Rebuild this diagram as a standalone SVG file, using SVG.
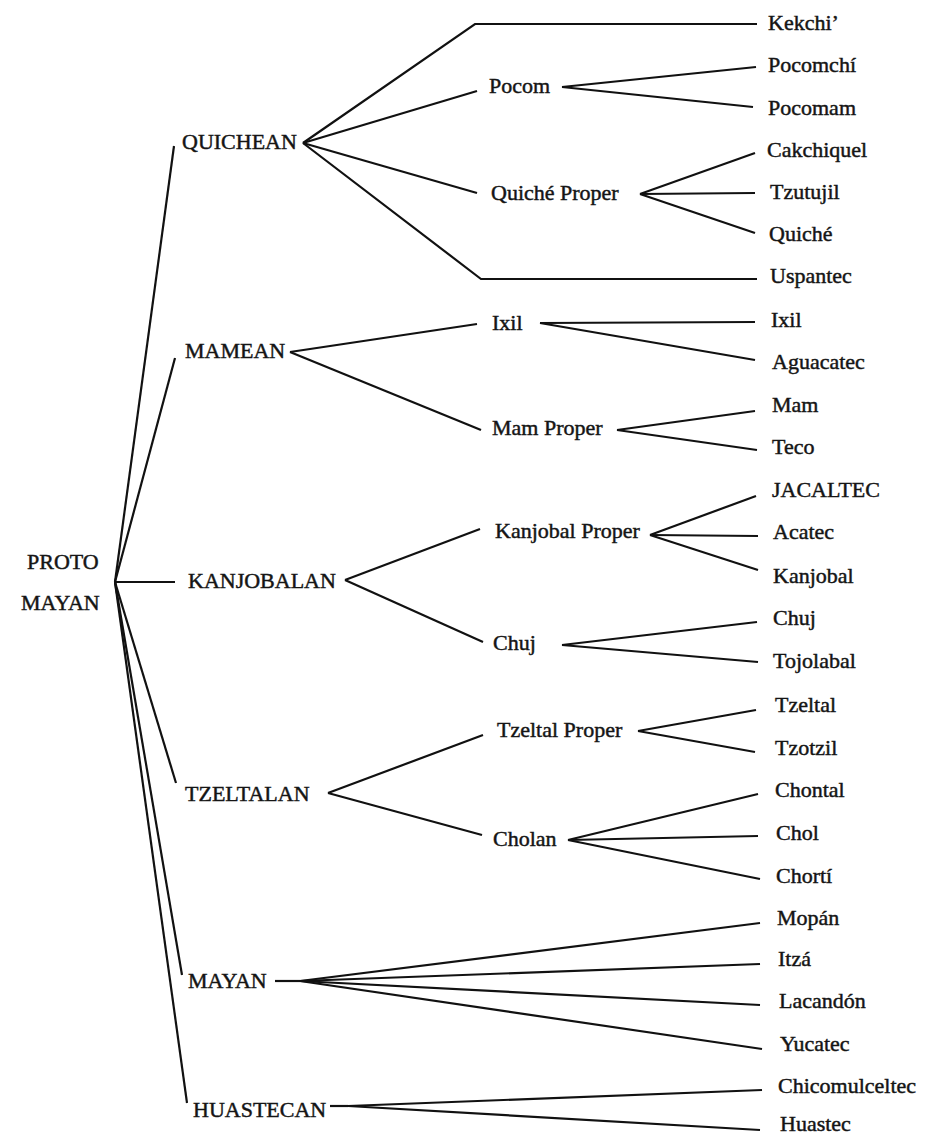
<svg xmlns="http://www.w3.org/2000/svg" width="926" height="1137" viewBox="0 0 926 1137">
<style>
.t{font-family:"Liberation Serif","Times New Roman",serif;font-size:22px;fill:#151515;stroke:#151515;stroke-width:0.45px}
.c path{fill:none;stroke:#111;stroke-width:2.2;stroke-linejoin:miter;stroke-linecap:butt}
</style>
<rect width="926" height="1137" fill="#fff"/>
<g class="c" id="connectors">
<path d="M115,582 L174,146"/>
<path d="M115,582 L175,358"/>
<path d="M115,582 L175,582"/>
<path d="M115,582 L176,783"/>
<path d="M115,582 L182,975"/>
<path d="M115,582 L187,1103"/>
<path d="M303,143 L475,24 L757,24"/>
<path d="M303,143 L477,91"/>
<path d="M303,143 L477,193"/>
<path d="M303,143 L481,279 L757,279"/>
<path d="M562,87 L756,67"/>
<path d="M562,87 L753,107"/>
<path d="M640,194 L755,153"/>
<path d="M640,194 L755,193"/>
<path d="M640,194 L755,233"/>
<path d="M290,352 L477,324"/>
<path d="M290,352 L481,430"/>
<path d="M540,323 L755,322"/>
<path d="M540,323 L755,360"/>
<path d="M617,430 L755,411"/>
<path d="M617,430 L757,450"/>
<path d="M345,580 L480,529"/>
<path d="M345,580 L483,642"/>
<path d="M650,535 L756,496"/>
<path d="M650,535 L758,536"/>
<path d="M650,535 L758,570"/>
<path d="M562,645 L757,622"/>
<path d="M562,645 L758,662"/>
<path d="M328,793 L483,735"/>
<path d="M328,793 L482,835"/>
<path d="M638,731 L756,710"/>
<path d="M638,731 L755,752"/>
<path d="M568,840 L758,794"/>
<path d="M568,840 L758,836"/>
<path d="M568,840 L760,879"/>
<path d="M275,981 L300,981"/>
<path d="M300,981 L760,923"/>
<path d="M300,981 L760,964"/>
<path d="M300,981 L760,1005"/>
<path d="M300,981 L762,1049"/>
<path d="M330,1106 L348,1106"/>
<path d="M348,1106 L762,1090"/>
<path d="M348,1106 L760,1130"/>
</g>
<g id="proto-mayan"><text class="t" x="27" y="569">PROTO</text><text class="t" x="21" y="610">MAYAN</text></g>
<g id="quichean"><text class="t" x="182" y="149">QUICHEAN</text></g>
<g id="mamean"><text class="t" x="185" y="358">MAMEAN</text></g>
<g id="kanjobalan"><text class="t" x="188" y="588">KANJOBALAN</text></g>
<g id="tzeltalan"><text class="t" x="185" y="801">TZELTALAN</text></g>
<g id="mayan"><text class="t" x="188" y="988">MAYAN</text></g>
<g id="huastecan"><text class="t" x="193" y="1117">HUASTECAN</text></g>
<g id="pocom"><text class="t" x="489" y="93">Pocom</text></g>
<g id="quiche-proper"><text class="t" x="491" y="200">Quiché Proper</text></g>
<g id="ixil-group"><text class="t" x="492" y="330">Ixil</text></g>
<g id="mam-proper"><text class="t" x="492" y="435">Mam Proper</text></g>
<g id="kanjobal-proper"><text class="t" x="495" y="538">Kanjobal Proper</text></g>
<g id="chuj-group"><text class="t" x="493" y="650">Chuj</text></g>
<g id="tzeltal-proper"><text class="t" x="497" y="737">Tzeltal Proper</text></g>
<g id="cholan"><text class="t" x="493" y="846">Cholan</text></g>
<g id="kekchi"><text class="t" x="768" y="30">Kekchi’</text></g>
<g id="pocomchi"><text class="t" x="768" y="72">Pocomchí</text></g>
<g id="pocomam"><text class="t" x="768" y="115">Pocomam</text></g>
<g id="cakchiquel"><text class="t" x="767" y="157">Cakchiquel</text></g>
<g id="tzutujil"><text class="t" x="770" y="199">Tzutujil</text></g>
<g id="quiche"><text class="t" x="769" y="241">Quiché</text></g>
<g id="uspantec"><text class="t" x="770" y="283">Uspantec</text></g>
<g id="ixil"><text class="t" x="771" y="327">Ixil</text></g>
<g id="aguacatec"><text class="t" x="772" y="369">Aguacatec</text></g>
<g id="mam"><text class="t" x="772" y="412">Mam</text></g>
<g id="teco"><text class="t" x="772" y="454">Teco</text></g>
<g id="jacaltec"><text class="t" x="772" y="497">JACALTEC</text></g>
<g id="acatec"><text class="t" x="773" y="539">Acatec</text></g>
<g id="kanjobal"><text class="t" x="773" y="583">Kanjobal</text></g>
<g id="chuj"><text class="t" x="773" y="625">Chuj</text></g>
<g id="tojolabal"><text class="t" x="773" y="668">Tojolabal</text></g>
<g id="tzeltal"><text class="t" x="775" y="712">Tzeltal</text></g>
<g id="tzotzil"><text class="t" x="775" y="755">Tzotzil</text></g>
<g id="chontal"><text class="t" x="775" y="797">Chontal</text></g>
<g id="chol"><text class="t" x="776" y="840">Chol</text></g>
<g id="chorti"><text class="t" x="776" y="883">Chortí</text></g>
<g id="mopan"><text class="t" x="777" y="925">Mopán</text></g>
<g id="itza"><text class="t" x="778" y="966">Itzá</text></g>
<g id="lacandon"><text class="t" x="779" y="1008">Lacandón</text></g>
<g id="yucatec"><text class="t" x="780" y="1051">Yucatec</text></g>
<g id="chicomulceltec"><text class="t" x="778" y="1093">Chicomulceltec</text></g>
<g id="huastec"><text class="t" x="780" y="1131">Huastec</text></g>
</svg>
